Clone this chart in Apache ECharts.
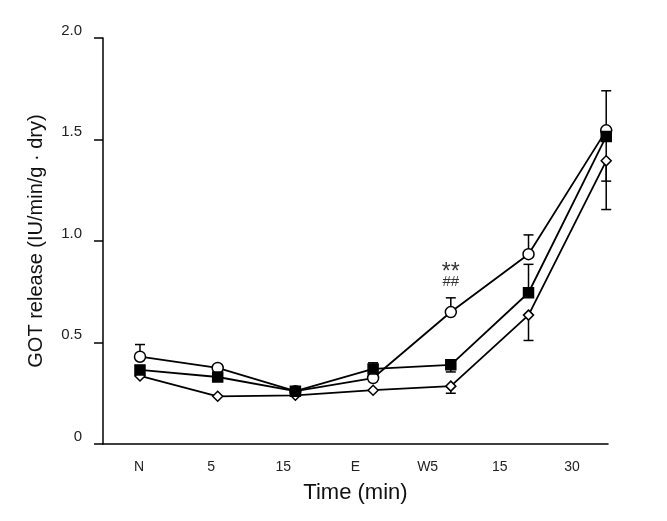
<!DOCTYPE html>
<html>
<head>
<meta charset="utf-8">
<script src="https://cdn.jsdelivr.net/npm/echarts@6/dist/echarts.min.js"></script>
<style>
  html, body { margin: 0; padding: 0; background: #fff; }
  #chart { width: 667px; height: 521px; }
</style>
</head>
<body>
<div id="chart"></div>
<script>
// 横轴刻度标签
var categories = ['N', '5', '15', 'E', 'W5', '15', '30'];
var yTicks = [0, 0.5, 1.0, 1.5, 2.0];

// 三组数值（空心圆、实心方块、空心菱形）
var circleVals = [0.43, 0.375, 0.26, 0.325, 0.65, 0.935, 1.545];
var squareVals = [0.365, 0.33, 0.26, 0.37, 0.39, 0.745, 1.515];
var diamondVals = [0.335, 0.235, 0.24, 0.265, 0.285, 0.635, 1.395];

// 误差线端点（null 表示看不到）
var circleErr = [0.49, 0.39, null, null, 0.72, 1.03, 1.74];
var squareErr = [null, null, null, 0.40, 0.355, 0.885, 1.295];
var diamondErr = [null, null, null, null, 0.25, 0.51, 1.155];

// 显著性标记
var marks = [[4, 0.845, '**'], [4, 0.80, '##']];

var font = 'Liberation Sans, Arial, Helvetica, sans-serif';
var markSize = { '**': 23, '##': 15 };

function pts(vals) {
  return vals.map(function (v, i) { return [i, v]; });
}

function errData(vals, ends) {
  var out = [];
  ends.forEach(function (e, i) {
    if (e !== null) out.push([i, vals[i], e]);
  });
  return out;
}

function errSeries(vals, ends) {
  return {
    type: 'custom',
    xAxisIndex: 1,
    z: 1,
    silent: true,
    data: errData(vals, ends),
    renderItem: function (params, api) {
      var p0 = api.coord([api.value(0), api.value(1)]);
      var p1 = api.coord([api.value(0), api.value(2)]);
      var st = { stroke: '#000', lineWidth: 1.5 };
      return {
        type: 'group',
        children: [
          { type: 'line', shape: { x1: p0[0], y1: p0[1], x2: p1[0], y2: p1[1] }, style: st },
          { type: 'line', shape: { x1: p1[0] - 5, y1: p1[1], x2: p1[0] + 5, y2: p1[1] }, style: st }
        ]
      };
    }
  };
}

function lineSeries(vals, symbol, size, fill) {
  return {
    type: 'line',
    xAxisIndex: 1,
    z: 3,
    data: pts(vals),
    symbol: symbol,
    symbolSize: size,
    showAllSymbol: true,
    lineStyle: { color: '#000', width: 1.8 },
    itemStyle: { color: fill, borderColor: '#000', borderWidth: 1.5 },
    emphasis: { disabled: true },
    animation: false
  };
}

var chart = echarts.init(document.getElementById('chart'));

chart.setOption({
  animation: false,
  grid: { left: 103, top: 38, right: 59, bottom: 77 },
  xAxis: [
    {
      type: 'category',
      data: categories,
      boundaryGap: true,
      axisLine: { lineStyle: { color: '#000', width: 1.5 } },
      axisTick: { alignWithLabel: true, length: 9, lineStyle: { color: '#000', width: 1.5 } },
      axisLabel: { color: '#222', fontSize: 14, margin: 16, fontFamily: font },
      name: 'Time (min)',
      nameLocation: 'middle',
      nameGap: 38,
      nameTextStyle: { color: '#111', fontSize: 22, fontFamily: font }
    },
    {
      type: 'value',
      min: -0.476,
      max: 6.023,
      show: false
    }
  ],
  yAxis: {
    type: 'value',
    min: yTicks[0],
    max: yTicks[yTicks.length - 1],
    interval: 0.5,
    axisLine: { show: true, onZero: false, lineStyle: { color: '#000', width: 1.5 } },
    axisTick: { show: true, length: 9, lineStyle: { color: '#000', width: 1.5 } },
    splitLine: { show: false },
    axisLabel: {
      color: '#222',
      fontSize: 15,
      margin: 21,
      verticalAlign: 'bottom',
      fontFamily: font,
      formatter: function (v) { return v === 0 ? '0' : v.toFixed(1); }
    },
    name: 'GOT release (IU/min/g · dry)',
    nameLocation: 'middle',
    nameGap: 57,
    nameTextStyle: { color: '#111', fontSize: 20, fontFamily: font }
  },
  series: [
    errSeries(circleVals, circleErr),
    errSeries(squareVals, squareErr),
    errSeries(diamondVals, diamondErr),
    lineSeries(circleVals, 'circle', 11, '#fff'),
    lineSeries(diamondVals, 'diamond', 10, '#fff'),
    lineSeries(squareVals, 'rect', 10, '#000'),
    {
      type: 'scatter',
      xAxisIndex: 1,
      silent: true,
      symbolSize: 1,
      itemStyle: { color: 'rgba(0,0,0,0)' },
      data: marks.map(function (m) {
        return { value: [m[0], m[1]], name: m[2], label: { fontSize: markSize[m[2]] } };
      }),
      label: {
        show: true,
        position: 'inside',
        color: '#000',
        fontFamily: font,
        formatter: function (p) { return p.name; }
      }
    }
  ]
});
</script>
</body>
</html>
